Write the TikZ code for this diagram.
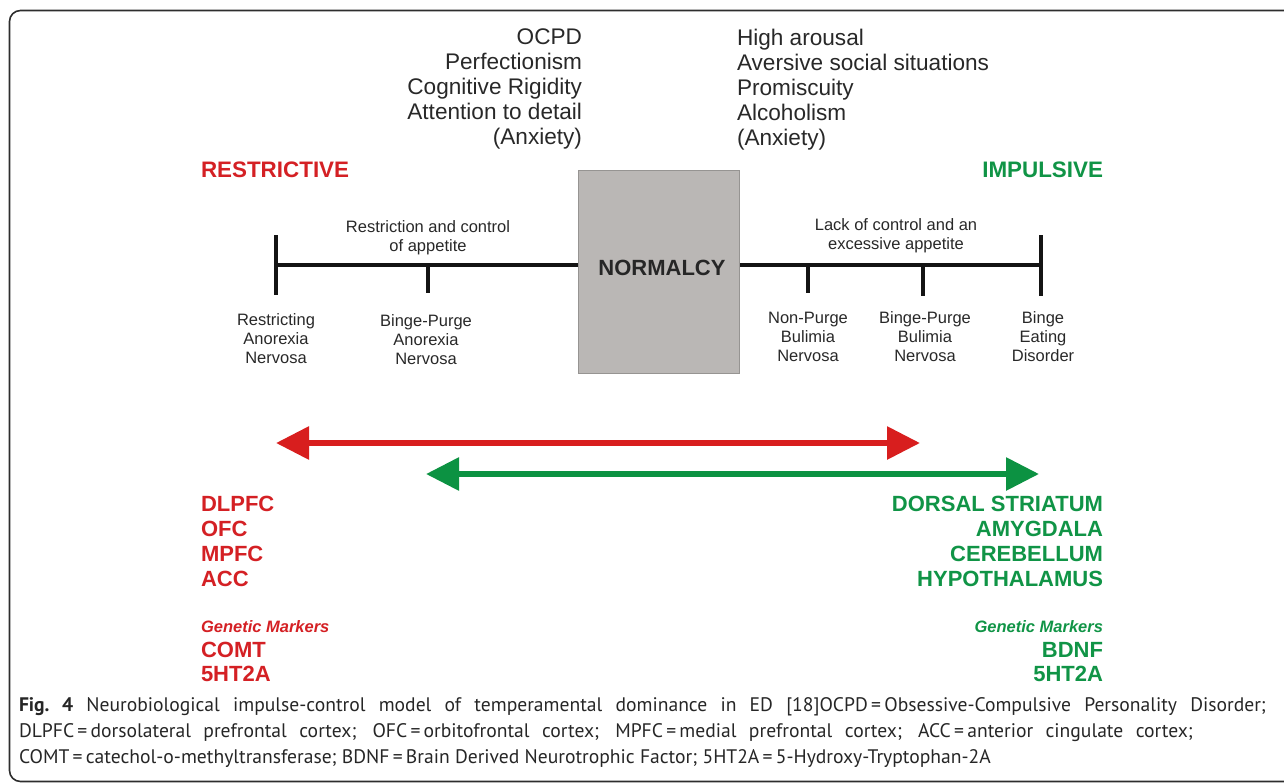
\documentclass[tikz,border=0pt]{standalone}
\usepackage{fontspec}
\setmainfont{Liberation Sans}
\newfontfamily\captionfont{PT Sans}
\usetikzlibrary{arrows.meta}

\definecolor{restrictred}{RGB}{212,32,36}
\definecolor{impulsegreen}{RGB}{16,148,70}
\definecolor{arrowred}{RGB}{216,30,30}
\definecolor{arrowgreen}{RGB}{12,146,66}
\definecolor{inkgray}{RGB}{40,40,40}
\definecolor{normalfill}{RGB}{186,183,181}
\definecolor{normaledge}{RGB}{150,148,146}
\definecolor{framegray}{RGB}{45,45,45}

\begin{document}
\begin{tikzpicture}[x=1pt,y=-1pt,
  every node/.style={inner sep=0pt, outer sep=0pt},
  traitleft/.style={text=inkgray, font=\fontsize{22.6}{25}\selectfont, align=right, anchor=north east},
  traitright/.style={text=inkgray, font=\fontsize{22.6}{25}\selectfont, align=left, anchor=north west},
  pole/.style={font=\bfseries\fontsize{22.4}{25}\selectfont},
  axisnote/.style={text=inkgray, font=\fontsize{16.5}{19}\selectfont, align=center, anchor=north},
  disorder/.style={text=inkgray, font=\fontsize{16.5}{19}\selectfont, align=center, anchor=north},
  region/.style={font=\bfseries\fontsize{22}{25}\selectfont},
  marker/.style={font=\bfseries\itshape\fontsize{16.5}{19}\selectfont},
  axisline/.style={line width=4pt, draw=black!92},
  spanarrow/.style={line width=6pt, {Triangle[length=33pt,width=32pt]}-{Triangle[length=33pt,width=32pt]}},
  captionline/.style={anchor=base west, text=black!85, font=\captionfont\fontsize{19.6}{26}\selectfont}
]
\useasboundingbox (0,0) rectangle (1284,782);

% outer frame
\draw[framegray, line width=1.6pt, rounded corners=11pt] (9.5,10.5) rectangle (1320,781.5);

% trait lists at the top
\node[traitleft] (traitsR) at (582,29) {OCPD\\Perfectionism\\Cognitive Rigidity\\Attention to detail\\(Anxiety)};
\node[traitright] (traitsI) at (737,29) {High arousal\\Aversive social situations\\Promiscuity\\Alcoholism\\(Anxiety)};

% poles
\node[pole, text=restrictred, anchor=west] (restrictive) at (201,170) {RESTRICTIVE};
\node[pole, text=impulsegreen, anchor=east] (impulsive) at (1103,170) {IMPULSIVE};

% axis with ticks (ticks hang below the axis)
\coordinate (axL) at (276,265);
\coordinate (axR) at (1041,265);
\coordinate (tBPA) at (428,265);
\coordinate (tNPB) at (808,265);
\coordinate (tBPB) at (923,265);
\draw[axisline] (axL) -- (axR);
\draw[axisline] ([yshift=30pt]axL) -- ([yshift=-30pt]axL);
\draw[axisline] ([yshift=30pt]axR) -- ([yshift=-31pt]axR);
\draw[axisline] (tBPA) -- ([yshift=-28pt]tBPA);
\draw[axisline] (tNPB) -- ([yshift=-28pt]tNPB);
\draw[axisline] (tBPB) -- ([yshift=-31pt]tBPB);

% central box
\node[draw=normaledge, fill=normalfill, line width=1pt, minimum width=161pt, minimum height=203pt] (normbox) at (659,271.5) {};
\node[font=\bfseries\fontsize{22}{25}\selectfont, text=black!85] (normalcy) at (662,268) {NORMALCY};

% axis notes
\node[axisnote] (restrictnote) at (428,221) {Restriction and control\\of appetite};
\node[axisnote] (lacknote) at (896,219) {Lack of control and an\\excessive appetite};

% disorders under the axis
\node[disorder] (ran) at (276,314) {Restricting\\Anorexia\\Nervosa};
\node[disorder] (bpan) at (426,315) {Binge-Purge\\Anorexia\\Nervosa};
\node[disorder] (npbn) at (808,312) {Non-Purge\\Bulimia\\Nervosa};
\node[disorder] (bpbn) at (925,312) {Binge-Purge\\Bulimia\\Nervosa};
\node[disorder] (bed) at (1043,312) {Binge\\Eating\\Disorder};

% span arrows
\coordinate (redL) at (276,443);
\coordinate (redR) at (920,443);
\coordinate (grnL) at (426,474);
\coordinate (grnR) at (1039,474);
\draw[spanarrow, arrowred] (redL) -- (redR);
\draw[spanarrow, arrowgreen] (grnL) -- (grnR);

% restrictive regions and markers
\node[region, text=restrictred, anchor=base west] (dlpfc) at (201,511) {DLPFC};
\node[region, text=restrictred, anchor=base west] (ofc) at (201,536) {OFC};
\node[region, text=restrictred, anchor=base west] (mpfc) at (201,561) {MPFC};
\node[region, text=restrictred, anchor=base west] (acc) at (201,586) {ACC};
\node[marker, text=restrictred, anchor=base west] (genR) at (201,632) {Genetic Markers};
\node[region, text=restrictred, anchor=base west] (comt) at (201,657) {COMT};
\node[region, text=restrictred, anchor=base west] (htR) at (201,681) {5HT2A};

% impulsive regions and markers
\node[region, text=impulsegreen, anchor=base east] (dstr) at (1103,511) {DORSAL STRIATUM};
\node[region, text=impulsegreen, anchor=base east] (amyg) at (1103,536) {AMYGDALA};
\node[region, text=impulsegreen, anchor=base east] (cereb) at (1103,561) {CEREBELLUM};
\node[region, text=impulsegreen, anchor=base east] (hypo) at (1103,586) {HYPOTHALAMUS};
\node[marker, text=impulsegreen, anchor=base east] (genI) at (1103,632) {Genetic Markers};
\node[region, text=impulsegreen, anchor=base east] (bdnf) at (1103,657) {BDNF};
\node[region, text=impulsegreen, anchor=base east] (htI) at (1103,681) {5HT2A};

% caption
\node[captionline] (cap1) at (19,711) {\makebox[1247pt][s]{\textbf{Fig.~4} Neurobiological impulse-control model of temperamental dominance in ED [18]OCPD\,=\,Obsessive-Compulsive Personality Disorder;}};
\node[captionline] (cap2) at (19,737) {\makebox[1174pt][s]{DLPFC\,=\,dorsolateral prefrontal cortex; OFC\,=\,orbitofrontal cortex; MPFC\,=\,medial prefrontal cortex; ACC\,=\,anterior cingulate cortex;}};
\node[captionline] (cap3) at (19,763) {COMT\,=\,catechol-o-methyltransferase; BDNF\,=\,Brain Derived Neurotrophic Factor; 5HT2A\,=\,5-Hydroxy-Tryptophan-2A};
\end{tikzpicture}
\end{document}
